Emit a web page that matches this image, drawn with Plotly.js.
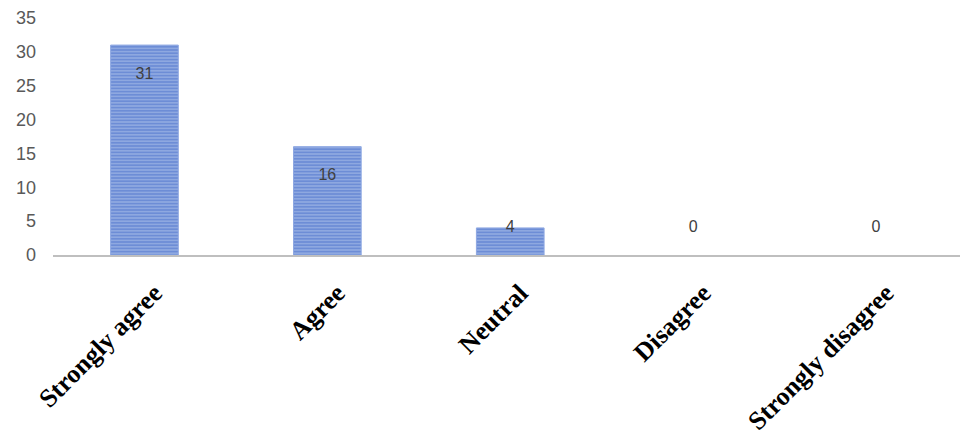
<!DOCTYPE html>
<html>
<head>
<meta charset="utf-8">
<script src="https://cdn.plot.ly/plotly-3.0.1.min.js"></script>
<style>html,body{margin:0;padding:0;background:#fff;}#chart{width:960px;height:442px;}</style>
</head>
<body>
<div id="chart"></div>
<script>
const categories = ["Strongly agree", "Agree", "Neutral", "Disagree", "Strongly disagree"];
const values = [31, 16, 4, 0, 0];
const yTicks = [0, 5, 10, 15, 20, 25, 30, 35];

// label placement (Excel-like: a little below the bar top, never below ~4)
const labelY = values.map(v => Math.max(v - 4.4, 4));

const bars = {
  type: "bar",
  x: categories,
  y: values,
  width: 0.37,
  marker: {
    color: "#6f8fd8",
    line: {color: "#8ea8e2", width: values.map(v => v > 0 ? 1 : 0)},
    pattern: {shape: "-", bgcolor: "#6d8dd6", fgcolor: "#c0cff2", size: 3.2, solidity: 0.4, fillmode: "overlay"}
  },
  hoverinfo: "x+y",
  showlegend: false
};

const labels = {
  type: "scatter",
  mode: "text",
  x: categories,
  y: labelY,
  text: values.map(String),
  textposition: "middle center",
  textfont: {family: "Liberation Sans, Arial, sans-serif", size: 16, color: "#404040"},
  hoverinfo: "skip",
  showlegend: false
};

const layout = {
  width: 960,
  height: 442,
  margin: {l: 52.5, r: 0, t: 18, b: 187},
  paper_bgcolor: "#ffffff",
  plot_bgcolor: "#ffffff",
  showlegend: false,
  xaxis: {
    type: "category",
    range: [-0.5, 4.459],
    showgrid: false,
    zeroline: false,
    showline: true,
    linecolor: "#bfbfbf",
    linewidth: 1.5,
    ticks: "",
    tickangle: -45,
    ticklabelstandoff: 11,
    ticklabelshift: 10,
    tickfont: {family: "Liberation Serif, 'Times New Roman', serif", size: 26, color: "#000000", weight: "bold"},
    fixedrange: true
  },
  yaxis: {
    range: [0, 35],
    tickvals: yTicks,
    ticktext: yTicks.map(String),
    showgrid: false,
    zeroline: false,
    showline: false,
    ticks: "",
    ticklabelstandoff: 16,
    tickfont: {family: "Liberation Sans, Arial, sans-serif", size: 18, color: "#595959"},
    fixedrange: true
  }
};

Plotly.newPlot("chart", [bars, labels], layout, {displayModeBar: false, staticPlot: true});
</script>
</body>
</html>
